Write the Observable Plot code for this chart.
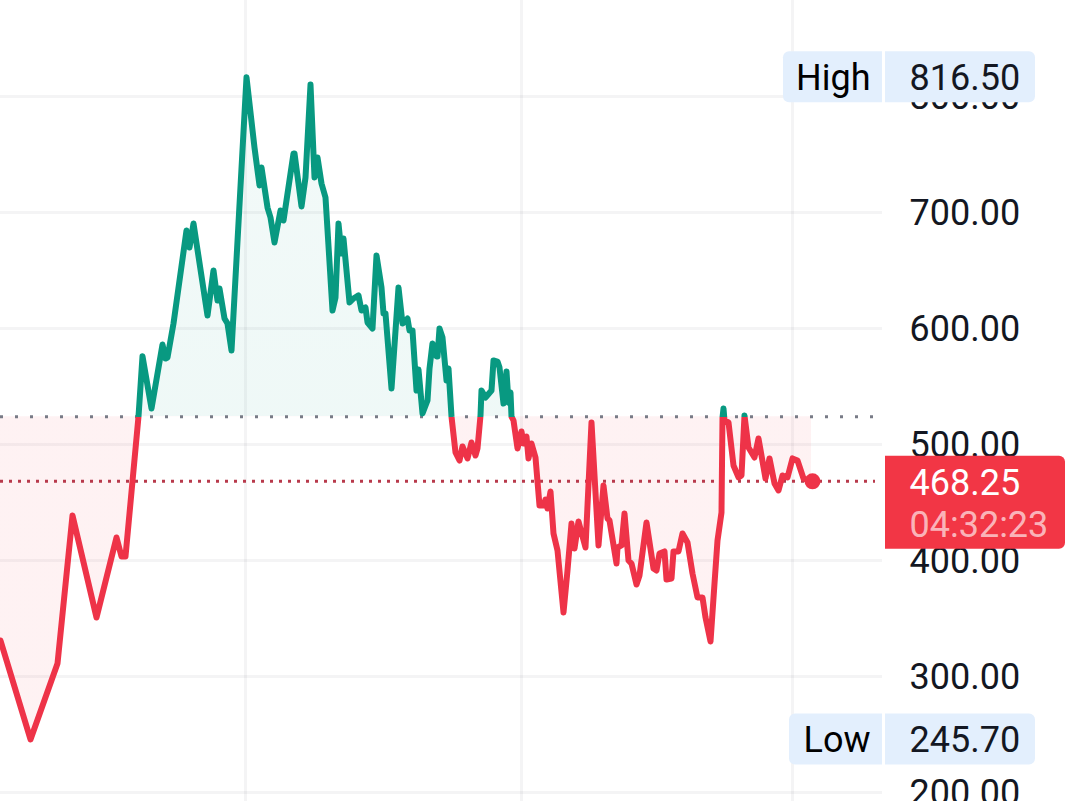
<!DOCTYPE html>
<html>
<head>
<meta charset="utf-8">
<style>
html,body{margin:0;padding:0;background:#fff;overflow:hidden}
svg{display:block}
</style>
<script src="https://cdn.jsdelivr.net/npm/d3@7"></script>
<script src="https://cdn.jsdelivr.net/npm/@observablehq/plot@0.6"></script>
</head>
<body>
<div id="chart"></div>
<script>
const times = [0,30,57,72,96,116,121,125,138,142,151,162,165,167,173,186,189,193,207,213,217,219,224,227,231,246,254,259,261,267,270,274,280,283,293,294,301,305,310,314,317,321,325,332,335,338,341,343,349,353,358,361,365,367,372,376,381,383,385,391,398,402,407,409,412,416,418,422,427,429,432,436,437,439,442,446,448,451,455,459,462,467,471,475,477,480,481,485,491,493,497,499,503,506,508,510,511,513,517,521,523,526,528,531,535,539,543,545,547,550,553,557,563,567,571,574,578,585,591,598,603,607,609,616,617,621,624,628,631,636,639,646,653,656,659,664,666,671,673,678,682,687,692,697,702,705,710,714,717,721,722,723,724,728,733,738,741,744,748,754,758,765,769,774,778,782,787,792,797,803,811];
const prices = [331.0,245.7,311.2,438.8,350.9,419.8,403.4,403.4,524.1,576.1,531.0,586.2,574.1,575.0,604.3,684.5,669.8,690.5,611.2,650.0,624.1,634.5,608.6,604.3,581.0,816.5,756.0,723.3,738.8,704.3,695.7,674.1,701.7,693.1,750.9,750.9,705.2,730.2,810.3,730.2,747.4,725.0,712.9,615.5,626.7,690.5,664.7,677.6,622.4,625.9,628.5,615.5,618.1,605.2,600.0,662.9,635.3,612.9,612.9,548.3,635.3,604.3,608.6,598.3,598.3,546.6,564.6,526.7,537.9,565.5,587.1,575.9,575.9,600.0,592.2,555.2,565.5,524.1,493.1,486.2,498.3,488.0,501.7,490.5,496.6,525.0,546.6,540.5,546.6,572.4,571.5,566.4,535.3,562.9,536.2,544.8,524.1,520.7,496.6,511.2,500.9,506.9,488.0,500.9,488.8,447.4,447.4,452.6,444.8,459.5,423.3,408.6,355.2,391.4,431.9,410.3,433.6,411.2,519.0,413.0,464.6,436.2,434.5,397.4,411.2,413.0,440.5,400.0,397.4,379.3,387.1,432.8,393.1,391.4,406.0,407.8,383.6,384.5,407.8,407.8,423.3,415.5,388.8,368.1,368.1,350.9,330.2,380.2,417.2,441.4,523.3,531.0,520.7,519.0,481.9,471.6,473.3,525.0,497.4,488.8,505.2,470.7,488.0,466.4,460.4,473.3,471.6,488.0,486.2,470.7,468.25];
const yTicks = [200,300,400,500,600,700,800];
const xGrid = [245,521,792];
const baseline = 524;
const current = 468.25;
const high = 816.5;
const low = 245.7;
const countdown = "04:32:23";

const GREEN = "#089981", RED = "#f23645", LINE_RED = "#ee3348", PILL = "#e3effd", INK = "#131722";
const FONT = "Roboto, sans-serif", FS = 36;
const data = times.map((t,i)=>({t, p:prices[i]}));
const fmt = d => d.toFixed(2);

// gradients tied to the price scale
function defs(index, {y}){
  const ns = "http://www.w3.org/2000/svg";
  const d = document.createElementNS(ns,"defs");
  const mk = (id, stops, y1, y2) => {
    const g = document.createElementNS(ns,"linearGradient");
    g.setAttribute("id",id); g.setAttribute("gradientUnits","userSpaceOnUse");
    g.setAttribute("x1",0); g.setAttribute("x2",0);
    g.setAttribute("y1",y1); g.setAttribute("y2",y2);
    stops.forEach(([o,c,a])=>{
      const s = document.createElementNS(ns,"stop");
      s.setAttribute("offset",o); s.setAttribute("stop-color",c); s.setAttribute("stop-opacity",a);
      g.appendChild(s);
    });
    d.appendChild(g);
  };
  const top = y(high), bot = y(low), mid = (y(baseline)-top)/(bot-top);
  mk("lineGrad",[[mid,GREEN,1],[mid,LINE_RED,1]],top,bot);
  mk("fillGrad",[[0,GREEN,.05],[mid,GREEN,.065],[mid,RED,.065],[1,RED,.065]],top,bot);
  return d;
}
// rounded tag painted from the price scale
function tag(price, x1, x2, up, down, rl, rr, fill){
  return (index, {y}) => {
    const ns = "http://www.w3.org/2000/svg";
    const p = document.createElementNS(ns,"path");
    const a = y(price)-up, b = y(price)+down;
    p.setAttribute("d",`M${x1+rl},${a}H${x2-rr}A${rr},${rr} 0 0 1 ${x2},${a+rr}V${b-rr}A${rr},${rr} 0 0 1 ${x2-rr},${b}H${x1+rl}A${rl},${rl} 0 0 1 ${x1},${b-rl}V${a+rl}A${rl},${rl} 0 0 1 ${x1+rl},${a}Z`);
    p.setAttribute("fill",fill);
    return p;
  };
}
const label = (rows, opts) => Plot.text(rows, {x:"x", y:"y", text:"s", fontSize:FS, fontFamily:FONT, lineAnchor:"middle", dy:1, ...opts});

const chart = Plot.plot({
  width:1080, height:801,
  marginLeft:0, marginRight:198, marginTop:0, marginBottom:0,
  style:{background:"#fff", fontFamily:FONT},
  x:{domain:[0,882], axis:null},
  y:{domain:[192.24,882.76], axis:null},
  marks:[
    defs,
    Plot.ruleX(xGrid,{stroke:"#2a2e39",strokeOpacity:.05,strokeWidth:3}),
    Plot.ruleY(yTicks,{stroke:"#2a2e39",strokeOpacity:.05,strokeWidth:3}),
    Plot.axisY(yTicks,{anchor:"right",tickSize:0,tickPadding:27,tickFormat:fmt,label:null,fontSize:FS,fontFamily:FONT,fill:INK,textAnchor:"start",dy:1}),
    Plot.areaY(data,{x:"t",y1:()=>baseline,y2:"p",fill:"url(#fillGrad)"}),
    Plot.ruleY([baseline],{x1:0,x2:875,stroke:"#787b86",strokeWidth:3,strokeDasharray:"3 12"}),
    Plot.ruleY([current],{x1:0,x2:875,stroke:"#b8394b",strokeWidth:3,strokeDasharray:"3 6"}),
    Plot.line(data,{x:"t",y:"p",stroke:"url(#lineGrad)",strokeWidth:6,strokeLinejoin:"round",strokeLinecap:"round"}),
    Plot.dot(data.slice(-1),{x:d=>d.t+1,y:"p",r:8,fill:LINE_RED}),
    tag(high,783,882,25.5,25.5,6,0,PILL),
    tag(high,885,1035,25.5,25.5,0,6,PILL),
    tag(low,789,882,25.5,25.5,6,0,PILL),
    tag(low,885,1035,25.5,25.5,0,6,PILL),
    tag(current,885,1065,25,68,0,6,RED),
    label([{x:870,y:high,s:"High"},{x:870,y:low,s:"Low"}],{textAnchor:"end",fill:"#000"}),
    label([{x:909,y:high,s:fmt(high)},{x:909,y:low,s:fmt(low)}],{textAnchor:"start",fill:INK}),
    label([{x:909,y:current,s:fmt(current)}],{textAnchor:"start",fill:"#fff",dy:2}),
    label([{x:909,y:current,s:countdown}],{textAnchor:"start",fill:"#fff",fillOpacity:.65,dy:44})
  ]
});
document.getElementById("chart").appendChild(chart);
</script>
</body>
</html>
